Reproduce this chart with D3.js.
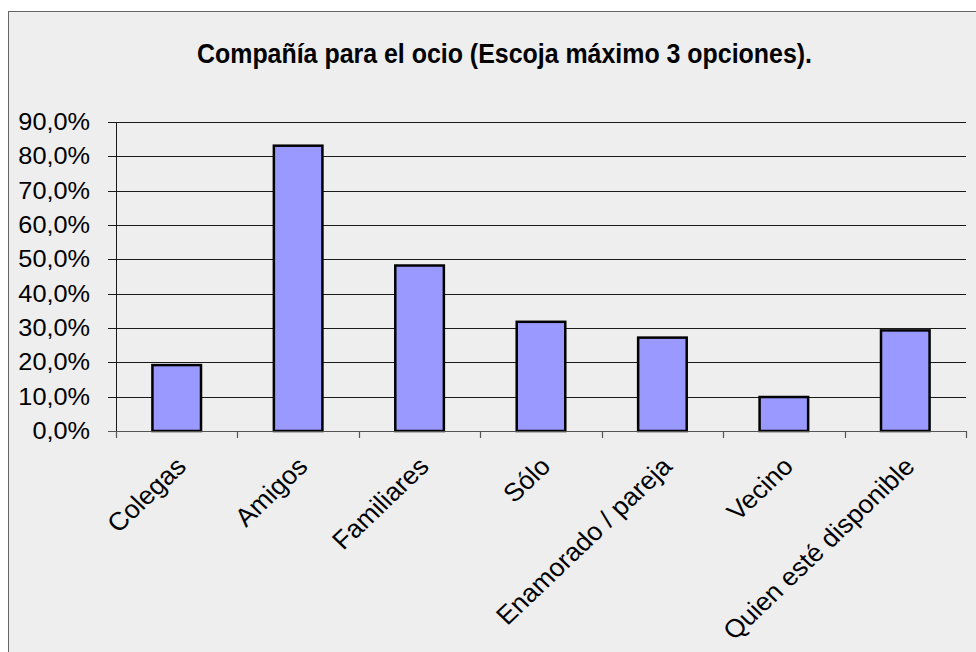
<!DOCTYPE html>
<html>
<head>
<meta charset="utf-8">
<script src="https://cdn.jsdelivr.net/npm/d3@7"></script>
<style>
  html, body { margin: 0; padding: 0; background: #ffffff; }
  svg { display: block; }
  text { font-family: "Liberation Sans", Arial, Helvetica, sans-serif; fill: #000; }
</style>
</head>
<body>
<svg id="chart" width="976" height="652"></svg>
<script>
// Chart data
const title = "Compañía para el ocio (Escoja máximo 3 opciones).";
const categories = ["Colegas", "Amigos", "Familiares", "Sólo", "Enamorado / pareja", "Vecino", "Quien esté disponible"];
const values = [19.2, 83.1, 48.2, 31.8, 27.2, 9.9, 29.3];
const yTicks = [0, 10, 20, 30, 40, 50, 60, 70, 80, 90];

const svg = d3.select("#chart");
const W = 976, H = 652;
const plot = { left: 116, right: 966, top: 122, bottom: 431 };

// Panel background with frame
svg.append("rect")
  .attr("x", 8.5).attr("y", 11.5)
  .attr("width", W).attr("height", H)
  .attr("fill", "#eeeeee")
  .attr("stroke", "#666666")
  .attr("stroke-width", 1);

// Title
svg.append("text")
  .attr("x", 504.5).attr("y", 63)
  .attr("text-anchor", "middle")
  .attr("font-size", 27)
  .attr("font-weight", "bold")
  .attr("textLength", 615)
  .attr("lengthAdjust", "spacingAndGlyphs")
  .text(title);

// Scales
const x = d3.scaleBand()
  .domain(categories)
  .range([plot.left, plot.right])
  .paddingInner(0.6)
  .paddingOuter(0.3);

const xOuter = d3.scaleBand()
  .domain(categories)
  .range([plot.left, plot.right])
  .padding(0);

const y = d3.scaleLinear()
  .domain([0, 90])
  .range([plot.bottom, plot.top]);

// Horizontal gridlines (extend left as tick marks)
svg.append("g")
  .selectAll("line")
  .data(yTicks.filter(d => d > 0))
  .join("line")
  .attr("x1", plot.left - 8).attr("x2", plot.right)
  .attr("y1", d => Math.round(y(d)) + 0.5)
  .attr("y2", d => Math.round(y(d)) + 0.5)
  .attr("stroke", "#1a1a1a")
  .attr("stroke-width", 1);

// Y axis tick labels
svg.append("g")
  .selectAll("text")
  .data(yTicks)
  .join("text")
  .attr("transform", d => `translate(90,${y(d) + 8}) scale(1.1,1)`)
  .attr("text-anchor", "end")
  .attr("font-size", 23)
  .text(d => d3.format(".1f")(d).replace(".", ",") + "%");

// Y axis line
svg.append("line")
  .attr("x1", plot.left + 0.5).attr("x2", plot.left + 0.5)
  .attr("y1", plot.top).attr("y2", plot.bottom)
  .attr("stroke", "#1a1a1a").attr("stroke-width", 1);

// Bars
svg.append("g")
  .selectAll("rect")
  .data(values)
  .join("rect")
  .attr("x", (d, i) => x(categories[i]))
  .attr("width", x.bandwidth())
  .attr("y", d => y(d))
  .attr("height", d => y(0) - y(d))
  .attr("fill", "#9999ff")
  .attr("stroke", "#000000")
  .attr("stroke-width", 2.5);

// X axis baseline and ticks
svg.append("line")
  .attr("x1", plot.left - 8).attr("x2", plot.right)
  .attr("y1", plot.bottom + 0.5).attr("y2", plot.bottom + 0.5)
  .attr("stroke", "#555555").attr("stroke-width", 1.2);

const tickPositions = categories.map(c => xOuter(c)).concat([plot.right]);
svg.append("g")
  .selectAll("line")
  .data(tickPositions)
  .join("line")
  .attr("x1", d => Math.round(d) + 0.5).attr("x2", d => Math.round(d) + 0.5)
  .attr("y1", plot.bottom).attr("y2", plot.bottom + 7)
  .attr("stroke", "#555555").attr("stroke-width", 1.2);

// Category labels, rotated
svg.append("g")
  .selectAll("text")
  .data(categories)
  .join("text")
  .attr("transform", d => {
    const cx = xOuter(d) + xOuter.bandwidth() / 2;
    return `translate(${cx + 11},${plot.bottom + 37}) scale(1.05,1) rotate(-45)`;
  })
  .attr("text-anchor", "end")
  .attr("font-size", 25.5)
  .text(d => d);
</script>
</body>
</html>
